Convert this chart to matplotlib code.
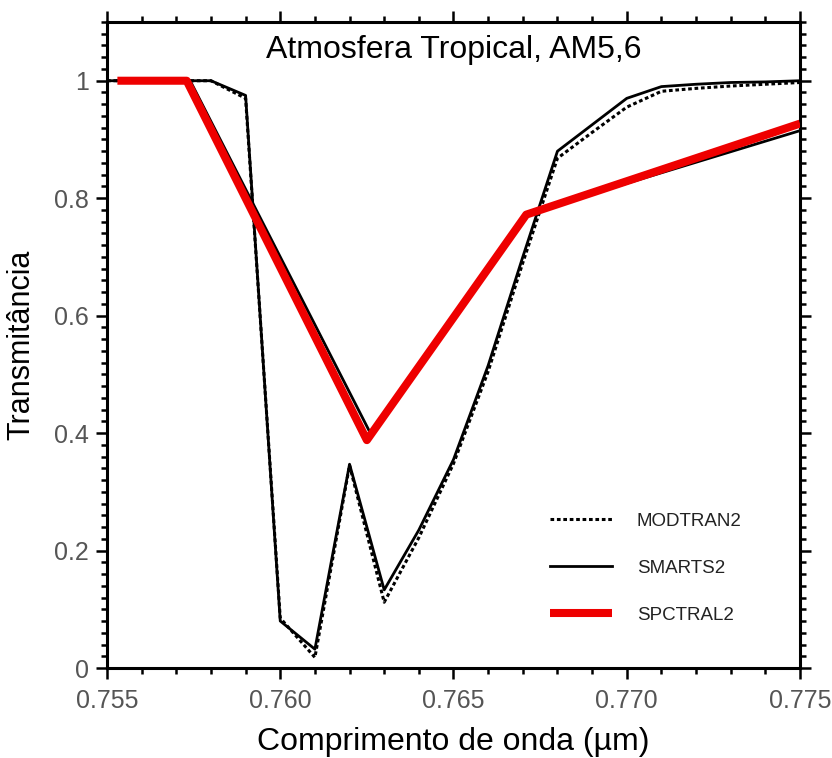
import matplotlib
matplotlib.use("Agg")
import matplotlib.pyplot as plt
from matplotlib.ticker import MultipleLocator, FixedLocator, FuncFormatter

plt.rcParams['font.family'] = ['Liberation Sans', 'DejaVu Sans']

# SMARTS2 (high resolution)
smarts_x = [0.7550, 0.7580, 0.7590, 0.7600, 0.7610, 0.7620, 0.7630, 0.7640, 0.7650,
            0.7660, 0.7670, 0.7680, 0.7690, 0.7700, 0.7710, 0.7720, 0.7730, 0.7740, 0.7750]
smarts_y = [1.000, 1.000, 0.975, 0.080, 0.032, 0.347, 0.133, 0.235, 0.355,
            0.515, 0.700, 0.880, 0.925, 0.970, 0.990, 0.994, 0.997, 0.998, 1.000]

# MODTRAN2 (high resolution)
modtran_x = smarts_x
modtran_y = [1.000, 1.000, 0.970, 0.085, 0.018, 0.345, 0.112, 0.222, 0.348,
             0.505, 0.690, 0.868, 0.912, 0.955, 0.982, 0.987, 0.991, 0.994, 0.997]

# SMARTS2 degraded to SPCTRAL2 resolution (unlabelled black line)
lowres_x = [0.7553, 0.7574, 0.7626, 0.7672, 0.7750]
lowres_y = [1.000, 1.000, 0.400, 0.775, 0.915]

# SPCTRAL2
spctral_x = [0.7553, 0.7573, 0.7625, 0.7671, 0.7750]
spctral_y = [1.000, 1.000, 0.388, 0.772, 0.927]

fig = plt.figure(figsize=(8.32, 7.58), dpi=100)
ax = fig.add_axes([107/832, 1 - 668/758, (800 - 107)/832, (668 - 22)/758])

ax.plot(lowres_x, lowres_y, color='black', lw=2.0, zorder=2)
ax.plot(modtran_x, modtran_y, color='black', lw=2.2, dashes=(1.2, 0.9), zorder=3,
        label='MODTRAN2')
ax.plot(smarts_x, smarts_y, color='black', lw=2.0, zorder=3, label='SMARTS2')
ax.plot(spctral_x, spctral_y, color='#ee0000', lw=5.8, zorder=4, label='SPCTRAL2',
        solid_capstyle='butt')

ax.set_xlim(0.755, 0.775)
ax.set_ylim(0, 1.1)

ax.xaxis.set_major_locator(MultipleLocator(0.005))
ax.xaxis.set_minor_locator(MultipleLocator(0.001))
ax.yaxis.set_major_locator(FixedLocator([0, 0.2, 0.4, 0.6, 0.8, 1.0]))
ax.yaxis.set_minor_locator(MultipleLocator(0.02))
ax.xaxis.set_major_formatter(FuncFormatter(lambda v, p: f"{v:.3f}"))
ax.yaxis.set_major_formatter(FuncFormatter(lambda v, p: f"{v:g}"))

ax.tick_params(which='both', direction='out', top=True, right=True,
               labeltop=False, labelright=False, width=1.8, color='black')
ax.tick_params(which='major', length=8, labelsize=18, labelcolor='#555555')
ax.tick_params(axis='x', which='major', pad=7)
ax.tick_params(axis='y', which='major', pad=5)
ax.tick_params(which='minor', length=4.5)

for s in ax.spines.values():
    s.set_linewidth(2.2)

ax.set_xlabel('Comprimento de onda (\u00b5m)', fontsize=23)
ax.xaxis.set_label_coords(0.5, (668 - 727) / 646)
ax.set_ylabel('Transmit\u00e2ncia', fontsize=22)
ax.yaxis.set_label_coords((36 - 107) / 693, 0.5)

ax.text(0.5, (668 - 50) / 646, 'Atmosfera Tropical, AM5,6', transform=ax.transAxes,
        ha='center', va='center', fontsize=23)

leg = ax.legend(loc='lower right', bbox_to_anchor=(0.94, 0.042), frameon=False,
                fontsize=13.5, handlelength=3.3, labelspacing=1.6, handletextpad=1.3)
for t in leg.get_texts():
    t.set_color('#222222')

fig.savefig('out.png', dpi=100)
